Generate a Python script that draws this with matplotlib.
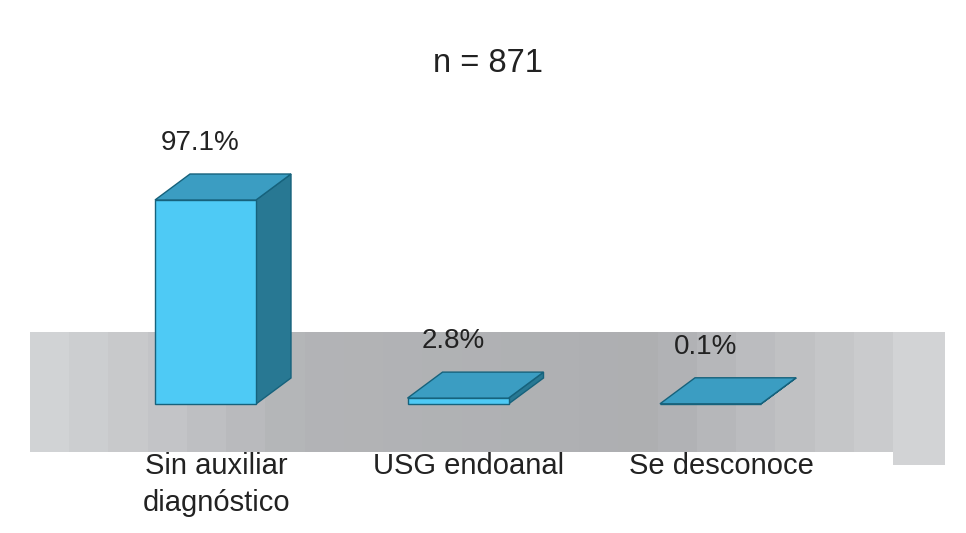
import matplotlib
matplotlib.use("Agg")
import matplotlib.pyplot as plt
from matplotlib.patches import Polygon, Rectangle
import numpy as np

plt.rcParams['font.family'] = ['Liberation Sans', 'DejaVu Sans']

# ---- data ----
categories = ["Sin auxiliar\ndiagnóstico", "USG endoanal", "Se desconoce"]
values = [97.1, 2.8, 0.1]
value_labels = ["97.1%", "2.8%", "0.1%"]
title = "n = 871"

W, H = 966, 533
fig = plt.figure(figsize=(W / 100, H / 100), dpi=100)

# ---- background floor band (pixel coordinates) ----
bg = fig.add_axes([0, 0, 1, 1])
bg.set_xlim(0, W)
bg.set_ylim(H, 0)
bg.axis('off')
nstripes = 22
xs = np.linspace(30, 893, nstripes + 1)
for i in range(nstripes):
    xm = (xs[i] + xs[i + 1]) / 2
    L = np.interp(xm, [30, 300, 650, 893], [0.83, 0.70, 0.68, 0.80])
    bg.add_patch(Rectangle((xs[i], 332), xs[i + 1] - xs[i] + 0.5, 120,
                           facecolor=(L, L + 0.005, L + 0.015), edgecolor='none'))
bg.add_patch(Rectangle((893, 332), 52, 133, facecolor='#d2d3d5', edgecolor='none'))

# ---- data axes ----
k = 204 / 97.1              # pixels per percent
y_zero_px = 404
ax = fig.add_axes([0, 0, 1, 1])
ax.patch.set_alpha(0)
ax.set_ylim(-(H - y_zero_px) / k, y_zero_px / k)
spacing = 252.5
c0 = 205.5
ax.set_xlim((0 - c0) / spacing, (W - c0) / spacing)
ax.axis('off')

width = 101 / spacing
dx = 35 / spacing
dy = 26 / k

front_c = '#4ecaf5'
top_c = '#3b9dc2'
side_c = '#287893'
edge_c = '#16627c'

for i, v in enumerate(values):
    x0 = i - width / 2
    x1 = i + width / 2
    # side
    ax.add_patch(Polygon([(x1, 0), (x1 + dx, dy), (x1 + dx, v + dy), (x1, v)],
                         closed=True, facecolor=side_c, edgecolor=edge_c, lw=1, zorder=2))
    # front
    ax.add_patch(Polygon([(x0, 0), (x1, 0), (x1, v), (x0, v)],
                         closed=True, facecolor=front_c, edgecolor=edge_c, lw=1, zorder=3))
    # top
    ax.add_patch(Polygon([(x0, v), (x1, v), (x1 + dx, v + dy), (x0 + dx, v + dy)],
                         closed=True, facecolor=top_c, edgecolor=edge_c, lw=1, zorder=4))
    # value label
    ax.text(i - 5 / spacing, v + dy + 31 / k, value_labels[i], ha='center', va='center',
            fontsize=20, color='#222222', zorder=5)
    # category label
    ax.text(i + 11 / spacing, -48 / k, categories[i], ha='center', va='top',
            fontsize=21, color='#222222', linespacing=1.42, zorder=5)

fig.text(488 / W, 1 - 63 / H, title, ha='center', va='center', fontsize=23.5, color='#222222')

fig.savefig("out.png", dpi=100, facecolor='white')
